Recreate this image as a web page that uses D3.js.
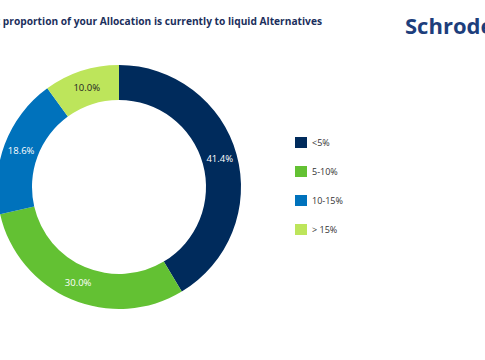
<!DOCTYPE html>
<html lang="en">
<head>
<meta charset="UTF-8">
<script src="https://d3js.org/d3.v7.min.js"></script>
<style>
body {margin: 0; background: white; overflow: hidden;}
svg {display: block;}
text {font-family: "Open Sans", sans-serif;}
</style>
</head>
<body>
<svg width="485" height="360"></svg>
<script>
// data
var categories = ["<5%", "5-10%", "10-15%", "> 15%"];
var values = [41.4, 30.0, 18.6, 10.0];
var colors = ["#002b5c", "#63c133", "#0072bc", "#bde55b"];
var labelColors = ["#ffffff", "#ffffff", "#ffffff", "#222222"];

var svg = d3.select("svg");

// title runs off the left edge in the original slide
svg.append("text")
  .attr("x", 322).attr("y", 25)
  .attr("text-anchor", "end")
  .attr("font-size", 10.2).attr("font-weight", "bold")
  .attr("fill", "#1b2f5c")
  .text("What proportion of your Allocation is currently to liquid Alternatives");

svg.append("text")
  .attr("x", 405).attr("y", 34)
  .attr("font-size", 22).attr("font-weight", "bold")
  .attr("fill", "#1d3e7c")
  .text("Schroders");

var cx = 119, cy = 187, outer = 122, inner = 87;

var pie = d3.pie().sort(null).value(function(d) { return d; });
var arc = d3.arc().innerRadius(inner).outerRadius(outer);
var arcs = pie(values);

var g = svg.append("g").attr("transform", "translate(" + cx + "," + cy + ")");

g.selectAll("path")
  .data(arcs)
  .enter()
  .append("path")
  .attr("d", arc)
  .attr("fill", function(d, i) { return colors[i]; });

g.selectAll("text")
  .data(arcs)
  .enter()
  .append("text")
  .attr("transform", function(d) { return "translate(" + arc.centroid(d) + ")"; })
  .attr("text-anchor", "middle")
  .attr("dy", "0.35em")
  .attr("font-size", 9.5)
  .attr("fill", function(d, i) { return labelColors[i]; })
  .text(function(d) { return d.data.toFixed(1) + "%"; });

var ly = d3.scalePoint().domain(categories).range([143, 230]);

var leg = svg.append("g").selectAll("g")
  .data(categories)
  .enter()
  .append("g")
  .attr("transform", function(d) { return "translate(295," + ly(d) + ")"; });

leg.append("rect")
  .attr("x", 0).attr("y", -6)
  .attr("width", 12).attr("height", 11)
  .attr("fill", function(d, i) { return colors[i]; });

leg.append("text")
  .attr("x", 17).attr("y", 0)
  .attr("dy", "0.35em")
  .attr("font-size", 9)
  .attr("fill", "#333")
  .text(function(d) { return d; });
</script>
</body>
</html>
